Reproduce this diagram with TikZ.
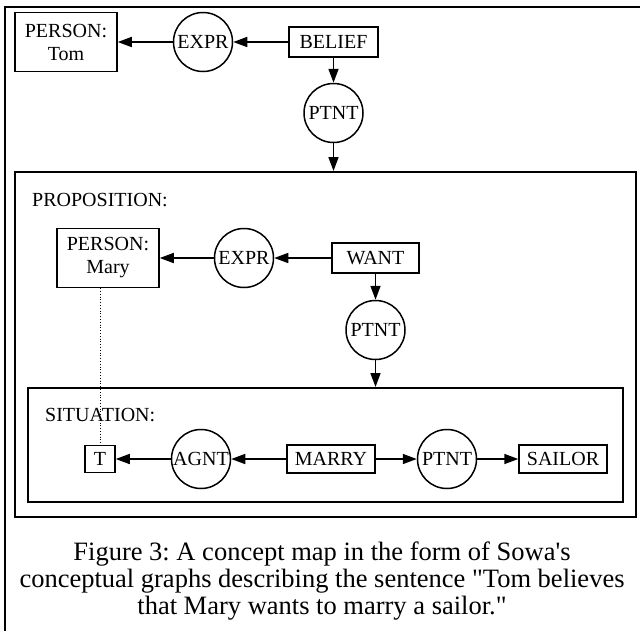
\documentclass[tikz,border=0pt]{standalone}
\usepackage{fontspec}
\setmainfont{Liberation Serif}
\usetikzlibrary{arrows.meta}
\frenchspacing
\begin{document}
\begin{tikzpicture}[x=1pt,y=-1pt,
  every node/.style={font=\fontsize{20}{23}\selectfont},
  concept/.style={draw, line width=1.5pt, inner sep=0pt, align=center},
  relation/.style={draw, circle, line width=1.5pt, inner sep=0pt, minimum size=59pt},
  context/.style={draw, line width=1.5pt, inner sep=0pt, anchor=north west},
  ctxlabel/.style={anchor=west, inner sep=0pt},
  link/.style={line width=1.6pt, -{Triangle[length=14pt,width=10pt]}},
  coref/.style={line width=0.8pt, dotted}
]
\useasboundingbox (0,0) rectangle (640,630);
% outer frame
\draw[line width=1.5pt] (5,650) -- (5,7) -- (660,7);

% top level
\node[concept, minimum width=102pt, minimum height=59pt] (tom) at (66,42) {PERSON:\\Tom};
\node[relation] (expr1) at (203,42) {EXPR};
\node[concept, minimum width=89pt, minimum height=30pt] (belief) at (333.5,42) {BELIEF};
\node[relation] (ptnt1) at (333.5,113) {PTNT};

% proposition context
\node[context, minimum width=621pt, minimum height=345pt] (prop) at (14,171) {};
\node[ctxlabel] (proplabel) at (32,200) {PROPOSITION:};
\node[concept, minimum width=102pt, minimum height=59pt] (mary) at (108,258) {PERSON:\\Mary};
\node[relation] (expr2) at (244,258) {EXPR};
\node[concept, minimum width=87pt, minimum height=30pt] (want) at (375.5,258) {WANT};
\node[relation] (ptnt2) at (375.5,330) {PTNT};

% situation context
\node[context, minimum width=595pt, minimum height=114pt] (sit) at (27,387) {};
\node[ctxlabel] (sitlabel) at (45,415) {SITUATION:};
\node[concept, minimum width=30pt, minimum height=27pt] (t) at (100,459) {T};
\node[relation] (agnt) at (201,459) {AGNT};
\node[concept, minimum width=88pt, minimum height=28pt] (marry) at (331,459) {MARRY};
\node[relation] (ptnt3) at (447,459) {PTNT};
\node[concept, minimum width=88pt, minimum height=28pt] (sailor) at (563,459) {SAILOR};

% connectors
\draw[link] (belief) -- (expr1);
\draw[link] (expr1) -- (tom);
\draw[link] (belief) -- (ptnt1);
\draw[link] (ptnt1.south) -- (ptnt1.south |- prop.north);
\draw[link] (want) -- (expr2);
\draw[link] (expr2) -- (mary);
\draw[link] (want) -- (ptnt2);
\draw[link] (ptnt2.south) -- (ptnt2.south |- sit.north);
\draw[link] (marry) -- (agnt);
\draw[link] (agnt) -- (t);
\draw[link] (marry) -- (ptnt3);
\draw[link] (ptnt3) -- (sailor);
\draw[coref] (t.north |- mary.south) -- (t.north);

% caption
\node[font=\fontsize{26.5}{27}\selectfont, align=center] (caption) at (322,581)
  {Figure 3: A concept map in the form of Sowa\textquotesingle s\\
   conceptual graphs describing the sentence \textquotedbl Tom believes\\
   that Mary wants to marry a sailor.\textquotedbl};
\end{tikzpicture}
\end{document}
